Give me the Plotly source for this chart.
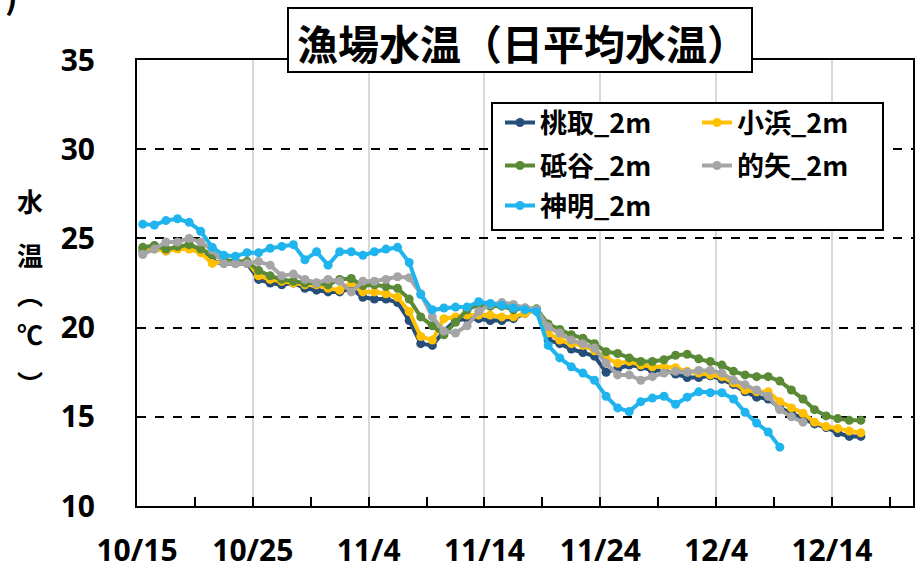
import plotly.graph_objects as go
from datetime import datetime, timedelta

# ---------------- data ----------------
start_date = datetime(2023, 10, 15, 12)

series_names = ["桃取_2m", "小浜_2m", "砥谷_2m", "的矢_2m", "神明_2m"]

momotori = [24.3, 24.5, 24.3, 24.5, 24.6, 24.3, 23.7, 23.6, 23.6, 23.6,
            22.7, 22.5, 22.4, 22.5, 22.2, 22.1, 22.0, 22.0, 22.2, 21.7,
            21.6, 21.6, 21.4, 20.4, 19.1, 19.0, 19.8, 20.4, 20.5, 20.5,
            20.4, 20.4, 20.5, 20.8, 21.0, 19.3, 19.1, 18.8, 18.6, 18.4,
            17.5, 17.7, 17.9, 17.8, 17.6, 17.6, 17.4, 17.2, 17.2, 17.3,
            17.1, 16.8, 16.4, 16.1, 16.0, 15.5, 15.2, 14.9, 14.6, 14.4,
            14.1, 13.9, 13.9]

obama = [24.4, 24.4, 24.3, 24.4, 24.4, 24.2, 23.6, 23.7, 23.7, 23.7,
         22.9, 22.7, 22.6, 22.5, 22.4, 22.4, 22.2, 22.1, 22.5, 22.0,
         22.0, 21.9, 21.7, 20.9, 19.5, 19.3, 20.5, 20.6, 20.7, 20.7,
         20.7, 20.6, 20.6, 20.8, 21.0, 19.7, 19.3, 19.1, 19.0, 18.7,
         18.3, 18.0, 18.1, 17.9, 17.8, 17.8, 17.75, 17.55, 17.45, 17.35,
         17.25, 16.9, 16.5, 16.4, 16.4, 15.85, 15.5, 15.2, 14.7, 14.45,
         14.35, 14.2, 14.1]

toya = [24.5, 24.6, 24.4, 24.55, 24.65, 24.4, 24.1, 23.8, 23.7, 23.7,
        23.2, 22.9, 22.7, 22.6, 22.5, 22.5, 22.4, 22.7, 22.75, 22.35,
        22.4, 22.3, 22.2, 21.6, 20.6, 20.1, 19.6, 20.3, 21.0, 21.3,
        21.2, 21.2, 21.0, 21.1, 21.05, 20.2, 19.9, 19.6, 19.4, 19.1,
        18.65, 18.55, 18.3, 18.1, 18.1, 18.2, 18.45, 18.5, 18.25, 18.1,
        17.9, 17.55, 17.35, 17.25, 17.25, 17.0, 16.5, 16.0, 15.4, 15.05,
        14.9, 14.8, 14.8]

matoya = [24.1, 24.4, 24.8, 24.8, 25.0, 24.8, 24.35, 23.6, 23.6, 23.6,
          23.7, 23.5, 22.9, 23.0, 22.7, 22.5, 22.7, 22.6, 22.0, 22.6,
          22.6, 22.7, 22.85, 22.8, 21.9, 20.6, 19.8, 19.7, 20.1, 20.9,
          21.3, 21.4, 21.3, 21.1, 21.0, 20.05, 19.7, 19.3, 19.1, 18.85,
          18.0, 17.35, 17.35, 17.05, 17.25, 17.45, 17.55, 17.5, 17.6, 17.6,
          17.45, 17.05, 16.8, 16.5, 16.15, 15.4, 15.0, 14.7]

shinmei = [25.8, 25.75, 26.0, 26.1, 25.9, 25.4, 24.5, 24.05, 24.0, 24.2,
           24.2, 24.45, 24.55, 24.65, 23.8, 24.25, 23.5, 24.25, 24.25, 24.05,
           24.25, 24.4, 24.5, 23.65, 21.85, 21.0, 21.1, 21.15, 21.15, 21.45,
           21.35, 21.25, 21.1, 21.0, 20.9, 19.0, 18.3, 17.8, 17.45, 17.05,
           16.15, 15.5, 15.3, 15.85, 16.05, 16.15, 15.7, 16.1, 16.4, 16.35,
           16.35, 16.0, 15.25, 14.65, 14.15, 13.3]

series_values = [momotori, obama, toya, matoya, shinmei]
series_colors = ["#264E7A", "#FFC000", "#5B8A36", "#A5A5A5", "#1FB4EE"]

y_ticks = [10, 15, 20, 25, 30, 35]
title_text = "漁場水温（日平均水温）"
ytitle_chars = ["水", "温", "︵", "℃", "︶"]

# ---------------- layout geometry ----------------
W, H = 919, 570
PL, PR, PT, PB = 137, 913, 60, 506


def fx(px):
    return (px - PL) / (PR - PL)


def fy(py):
    return (PB - py) / (PB - PT)


CJK = "Noto Sans CJK JP"
NUM = "Noto Sans"

fig = go.Figure()

legend_ids = ["legend", "legend2", "legend3", "legend4", "legend5"]
for k, (name, vals, col) in enumerate(zip(series_names, series_values, series_colors)):
    xs = [start_date + timedelta(days=i) for i in range(len(vals))]
    fig.add_trace(go.Scatter(
        x=xs, y=vals, name=name, mode="lines+markers",
        line=dict(color=col, width=4),
        marker=dict(color=col, size=9),
        legend=legend_ids[k],
    ))

# legend positions (left column / right column, three rows)
leg_pos = {
    "legend": (500, 123),
    "legend2": (697, 123),
    "legend3": (500, 166),
    "legend4": (697, 166),
    "legend5": (500, 206),
}
leg_font = dict(family=CJK, size=27, color="black", weight="bold")
layout_legends = {}
for lid, (lx, ly) in leg_pos.items():
    layout_legends[lid] = dict(
        x=fx(lx), y=fy(ly), xanchor="left", yanchor="middle",
        bgcolor="rgba(0,0,0,0)", borderwidth=0, font=leg_font,
    )

shapes = [
    # legend box
    dict(type="rect", xref="paper", yref="paper",
         x0=fx(492), x1=fx(883), y0=fy(230), y1=fy(103),
         line=dict(color="black", width=2), fillcolor="white", layer="above"),
    # title box
    dict(type="rect", xref="paper", yref="paper",
         x0=fx(288), x1=fx(752), y0=fy(72), y1=fy(8),
         line=dict(color="black", width=2), fillcolor="white", layer="above"),
]

annotations = [
    dict(text=title_text, xref="paper", yref="paper", x=fx(522), y=fy(42),
         xanchor="center", yanchor="middle", showarrow=False,
         font=dict(family=CJK, size=41, color="black", weight="bold")),
    dict(text=")", xref="paper", yref="paper", x=fx(11), y=fy(-6),
         xanchor="center", yanchor="middle", showarrow=False,
         font=dict(family=CJK, size=34, color="black", weight="bold")),
]
ytitle_y = [200, 254, 293, 333, 382]
for ch, cy in zip(ytitle_chars, ytitle_y):
    annotations.append(dict(text=ch, xref="paper", yref="paper", x=fx(30), y=fy(cy),
                            xanchor="center", yanchor="middle", showarrow=False,
                            font=dict(family=CJK, size=26, color="black", weight="bold")))

DAY = 86400000
fig.update_layout(
    width=W, height=H,
    margin=dict(l=PL, r=W - PR, t=PT, b=H - PB, pad=0, autoexpand=False),
    paper_bgcolor="white", plot_bgcolor="white",
    showlegend=True,
    shapes=shapes, annotations=annotations,
    **layout_legends,
)

fig.update_xaxes(
    type="date", automargin=False,
    range=[datetime(2023, 10, 15), datetime(2023, 12, 21)],
    tick0=datetime(2023, 10, 15), dtick=10 * DAY, tickformat="%-m/%-d",
    ticks="inside", ticklen=9, tickwidth=1.5, tickcolor="black",
    showgrid=True, gridcolor="#D9D9D9", gridwidth=1.5,
    showline=True, linecolor="black", linewidth=2, mirror=True,
    tickfont=dict(family=NUM, size=30, color="black", weight="bold"),
    ticklabelstandoff=17,
    minor=dict(dtick=5 * DAY, tick0=datetime(2023, 10, 15), ticks="inside",
               ticklen=9, tickwidth=1.5, tickcolor="black", showgrid=False),
    zeroline=False,
)
fig.update_yaxes(
    automargin=False,
    range=[10, 35], tickvals=y_ticks, ticktext=[str(v) for v in y_ticks],
    showgrid=True, gridcolor="black", griddash="dash", gridwidth=1.5,
    showline=True, linecolor="black", linewidth=2, mirror=True,
    ticks="", zeroline=False,
    tickfont=dict(family=NUM, size=30, color="black", weight="bold"),
    ticklabelstandoff=34,
)

fig.write_html(
    "out.html",
    config={"displayModeBar": False},
    post_script="document.body.style.margin='0';document.body.style.padding='0';"
                "document.documentElement.style.overflow='hidden';",
)
